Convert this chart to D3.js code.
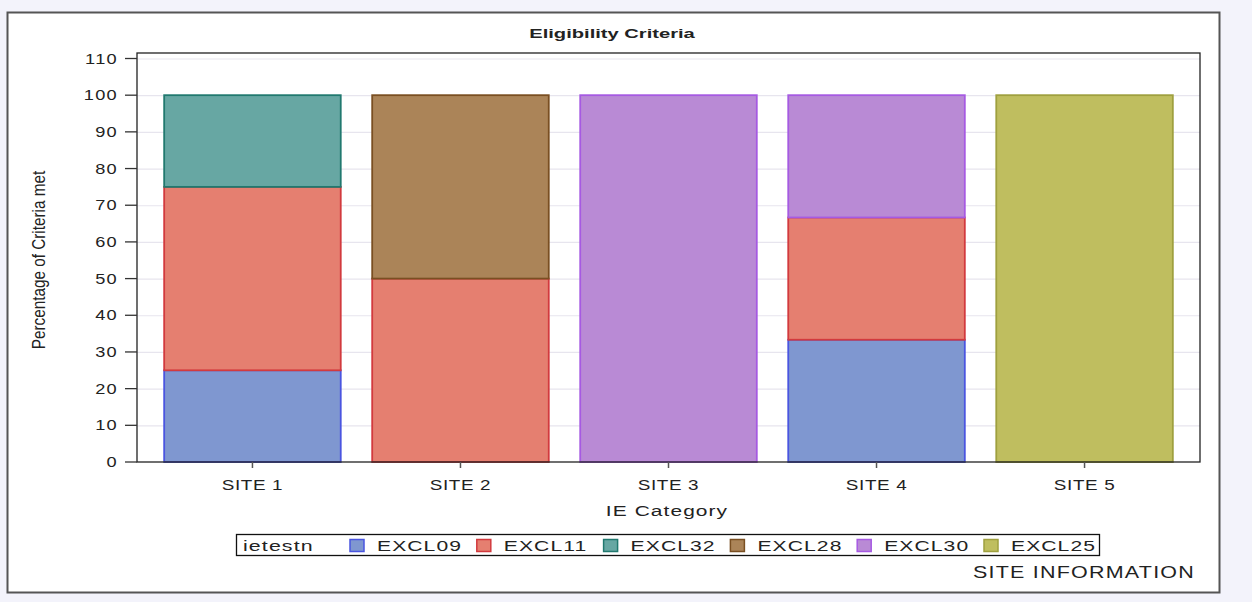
<!DOCTYPE html>
<html><head><meta charset="utf-8">
<script src="https://cdn.jsdelivr.net/npm/d3@7"></script>
<style>
html,body{margin:0;padding:0;background:#f3f3fb;}
svg{display:block;}
text{font-family:"Liberation Sans",Arial,sans-serif;fill:#222;}
</style></head>
<body>
<svg id="c" width="1252" height="602"></svg>
<script>
const sites = ["SITE 1","SITE 2","SITE 3","SITE 4","SITE 5"];
const groups = ["EXCL09","EXCL11","EXCL32","EXCL28","EXCL30","EXCL25"];
const EXCL09 = [25, 0, 0, 33.33, 0];
const EXCL11 = [50, 50, 0, 33.33, 0];
const EXCL32 = [25, 0, 0, 0, 0];
const EXCL28 = [0, 50, 0, 0, 0];
const EXCL30 = [0, 0, 100, 33.34, 0];
const EXCL25 = [0, 0, 0, 0, 100];
const yTicks = [0,10,20,30,40,50,60,70,80,90,100,110];
const fills = ["#7f97d0","#e57f70","#67a7a3","#ab8458","#b98ad5","#bfbe5f"];
const strokes = ["#4a55e0","#d23a3e","#21796f","#7a4f22","#a65ae2","#9fa03f"];

const seriesVals = {EXCL09,EXCL11,EXCL32,EXCL28,EXCL30,EXCL25};
const table = sites.map((s,i)=>{const o={site:s}; groups.forEach(g=>o[g]=seriesVals[g][i]); return o;});

const svg = d3.select("#c");
const SX = 1.38;
function stxt(sel, x, y, str, opts){
  const t = sel.append("text").attr("transform",`translate(${x},${y}) scale(${opts.sx||SX},1)${opts.rot?` rotate(${opts.rot})`:""}`)
    .attr("font-size",opts.size||14).attr("text-anchor",opts.anchor||"start").text(str);
  if(opts.bold) t.attr("font-weight","bold");
  if(opts.ls) t.attr("letter-spacing",opts.ls);
  return t;
}

// outer frame
svg.append("rect").attr("x",7.5).attr("y",12.5).attr("width",1212).attr("height",580)
  .attr("fill","#fff").attr("stroke","#555").attr("stroke-width",2);

const L=137,R=1200,T=53,B=462;
const x = d3.scaleBand().domain(sites).range([L,R]).paddingInner(0.144).paddingOuter(0.127);
const y = d3.scaleLinear().domain([0,111.5]).range([B,T]);

// grid
svg.append("g").selectAll("line").data(yTicks.filter(d=>d>0)).join("line")
  .attr("x1",L).attr("x2",R).attr("y1",d=>y(d)+0.5).attr("y2",d=>y(d)+0.5)
  .attr("stroke","#e7e5ee").attr("stroke-width",1.2);

// bars
const stack = d3.stack().keys(groups)(table);
stack.forEach((layer,gi)=>{
  svg.append("g").selectAll("rect").data(layer.filter(d=>d[1]-d[0]>0)).join("rect")
    .attr("x",d=>x(d.data.site)+0.75).attr("width",x.bandwidth()-1.5)
    .attr("y",d=>y(d[1])).attr("height",d=>y(d[0])-y(d[1]))
    .attr("fill",fills[gi]).attr("stroke",strokes[gi]).attr("stroke-width",1.8);
});

// frame
svg.append("rect").attr("x",L).attr("y",T).attr("width",R-L).attr("height",B-T)
  .attr("fill","none").attr("stroke","#222").attr("stroke-width",1.3);

// y axis ticks
const ya = svg.append("g");
yTicks.forEach(v=>{
  ya.append("line").attr("x1",L-12).attr("x2",L).attr("y1",y(v)).attr("y2",y(v)).attr("stroke","#333").attr("stroke-width",1.3);
  stxt(ya, 118, y(v)+5, String(v), {size:14, anchor:"end", sx:1.3, ls:1});
});
// x axis ticks
const xa = svg.append("g");
sites.forEach(s=>{
  const cx = x(s)+x.bandwidth()/2;
  xa.append("line").attr("x1",cx).attr("x2",cx).attr("y1",B).attr("y2",B+6).attr("stroke","#555").attr("stroke-width",1.5);
  stxt(xa, cx, B+28, s, {size:14.5, anchor:"middle", sx:1.3, ls:0.5});
});

// titles
stxt(svg, 612, 38, "Eligibility Criteria", {size:13, anchor:"middle", bold:true, sx:1.55});
stxt(svg, 667, 516, "IE Category", {size:15.5, anchor:"middle", sx:1.35, ls:0.8});
stxt(svg, 45, 260, "Percentage of Criteria met", {size:15.3, anchor:"middle", rot:-90, sx:1.25});

// legend
const lg = svg.append("g");
lg.append("rect").attr("x",236.5).attr("y",534.5).attr("width",863).attr("height",21)
  .attr("fill","#fff").attr("stroke","#111").attr("stroke-width",1.3);
stxt(lg, 243, 550.5, "ietestn", {size:15.5, sx:1.38, ls:0.8});
const lx = d3.scalePoint().domain(groups).range([349,983]);
groups.forEach((g,i)=>{
  const sx0 = lx(g);
  lg.append("rect").attr("x",sx0+1).attr("y",539.5).attr("width",14).attr("height",12)
    .attr("fill",fills[i]).attr("stroke",strokes[i]).attr("stroke-width",1.5);
  stxt(lg, sx0+28, 550.5, g, {size:15.5, sx:1.36, ls:0.8});
});
stxt(svg, 1195, 578, "SITE INFORMATION", {size:15.8, anchor:"end", sx:1.36, ls:0.9});
</script>
</body></html>
